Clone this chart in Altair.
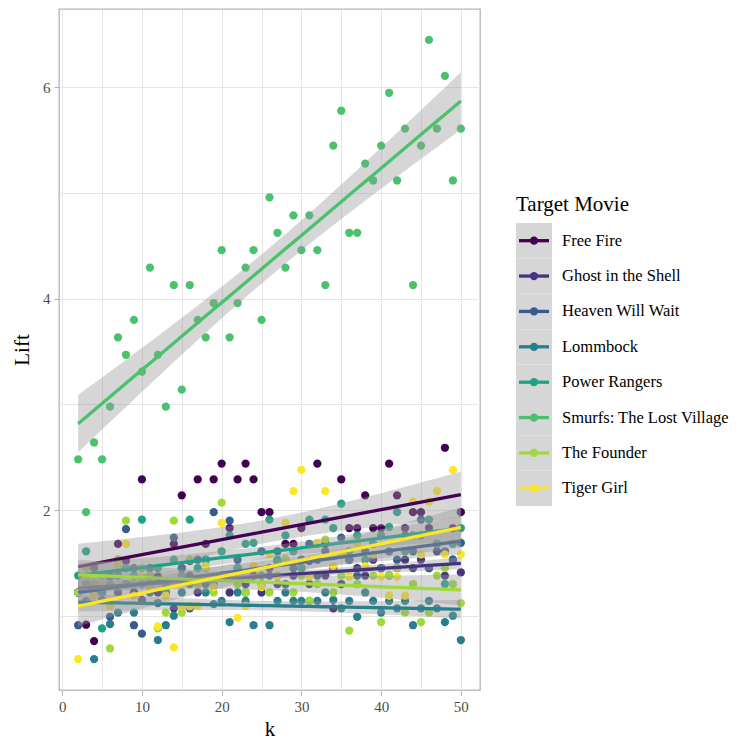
import altair as alt
import numpy as np
import pandas as pd

movies = ["Free Fire", "Ghost in the Shell", "Heaven Will Wait", "Lommbock",
          "Power Rangers", "Smurfs: The Lost Village", "The Founder", "Tiger Girl"]
colors = ["#440154", "#46337E", "#365C8D", "#277F8E", "#1FA187", "#4AC16D", "#9FDA3A", "#FDE725"]

k_values = list(range(2, 51))

free_fire = [1.22, 0.915, 0.76, 1.22, 1.37, 1.68, 1.52, 1.22, 2.29, 1.37, 1.37, 1.22, 1.68, 2.14, 1.52,
             2.29, 1.68, 2.29, 2.44, 1.83, 2.29, 2.44, 2.29, 1.98, 1.98, 1.52, 1.68, 1.68, 1.83, 1.52,
             2.44, 1.68, 1.07, 2.29, 1.83, 1.83, 2.14, 1.83, 1.83, 2.44, 2.14, 1.83, 1.98, 1.98, 1.83,
             1.68, 2.59, 1.83, 1.98]
ghost = [1.22, 1.30, 1.45, 1.15, 1.38, 1.22, 1.30, 1.45, 1.15, 1.38, 1.22, 1.30, 1.07, 1.45, 1.38,
         1.22, 1.53, 1.30, 1.38, 1.22, 1.45, 1.30, 1.38, 1.22, 1.45, 1.30, 1.53, 1.38, 1.45, 1.30,
         1.53, 1.38, 1.45, 1.30, 1.53, 1.45, 1.38, 1.53, 1.45, 1.38, 1.45, 1.53, 1.45, 1.53, 1.45,
         1.61, 1.38, 1.53, 1.41]
heaven = [0.91, 1.14, 1.30, 1.22, 0.99, 1.38, 1.82, 0.91, 0.83, 1.45, 1.12, 1.30, 1.74, 1.45, 1.07,
          1.53, 1.30, 1.98, 1.38, 1.90, 1.53, 1.22, 1.45, 1.61, 1.38, 1.61, 1.30, 1.45, 1.53, 1.68,
          1.38, 1.61, 1.45, 1.74, 1.53, 1.38, 1.61, 1.68, 1.45, 1.61, 1.53, 1.76, 1.61, 1.91, 1.45,
          1.68, 1.61, 1.53, 1.69]
lommbock = [1.22, 1.30, 0.59, 1.22, 0.92, 1.03, 1.30, 1.03, 1.30, 1.22, 0.77, 0.91, 1.00, 1.22, 1.30,
            1.30, 1.22, 1.11, 1.14, 0.94, 1.22, 1.14, 0.91, 1.30, 0.91, 1.14, 1.22, 1.14, 1.14, 1.14,
            1.14, 1.22, 1.15, 1.07, 1.14, 0.99, 1.22, 1.14, 1.03, 1.14, 1.07, 1.14, 0.91, 1.07, 1.14,
            1.07, 0.94, 1.00, 0.77]
power_rangers = [1.38, 1.61, 1.22, 0.88, 1.30, 1.53, 1.45, 1.38, 1.91, 1.30, 1.45, 1.22, 1.53, 1.38, 1.91,
                 1.45, 1.53, 1.30, 1.61, 1.76, 1.45, 1.68, 1.69, 1.38, 1.91, 1.53, 1.76, 1.61, 1.45, 1.91,
                 1.68, 1.91, 1.83, 2.06, 1.61, 1.76, 1.53, 1.68, 1.76, 1.84, 1.98, 1.61, 1.76, 1.76, 1.91,
                 1.68, 1.30, 1.68, 1.83]
smurfs = [2.48, 1.98, 2.64, 2.48, 2.98, 3.635, 3.47, 3.80, 3.31, 4.295, 3.47, 2.98, 4.13, 3.14, 4.13,
          3.80, 3.635, 3.96, 4.46, 3.635, 3.96, 4.295, 4.46, 3.80, 4.96, 4.625, 4.295, 4.79, 4.46, 4.79,
          4.46, 4.13, 5.45, 5.78, 4.625, 4.625, 5.28, 5.12, 5.45, 5.95, 5.12, 5.61, 4.13, 5.45, 6.45,
          5.61, 6.11, 5.12, 5.61]
founder = [1.22, 1.45, 1.30, 1.38, 0.69, 1.53, 1.90, 1.30, 1.45, 1.38, 0.88, 1.03, 1.90, 1.03, 1.53,
           1.30, 1.45, 1.22, 2.07, 1.38, 1.30, 1.22, 1.45, 1.30, 1.22, 1.38, 1.53, 1.22, 1.38, 1.14,
           1.30, 1.72, 1.22, 1.38, 0.86, 1.30, 1.45, 1.38, 0.94, 1.38, 1.45, 1.03, 1.30, 0.94, 1.03,
           1.38, 1.45, 1.30, 1.12]
tiger_girl = [0.59, 1.37, 1.19, 1.27, 1.09, 1.47, 1.68, 1.19, 1.37, 1.27, 0.90, 1.19, 0.70, 1.09, 1.09,
              1.09, 1.47, 1.27, 1.88, 1.37, 0.98, 1.09, 1.47, 1.27, 1.58, 1.37, 1.88, 2.18, 2.38, 1.37,
              1.69, 2.18, 1.47, 1.58, 1.37, 1.68, 1.47, 1.58, 1.37, 1.19, 1.37, 1.19, 2.08, 1.58, 2.08,
              2.18, 1.58, 2.38, 1.58]

series = [free_fire, ghost, heaven, lommbock, power_rangers, smurfs, founder, tiger_girl]

rows = []
for m, vals in zip(movies, series):
    for k, v in zip(k_values, vals):
        rows.append({"k": k, "Lift": v, "movie": m})
df = pd.DataFrame(rows)

# linear fit with 95% confidence band (like geom_smooth(method = "lm"))
T_CRIT = 2.0117  # t(0.975, df=47)
fits = []
for m, vals in zip(movies, series):
    x = np.array(k_values, dtype=float)
    y = np.array(vals, dtype=float)
    b, a = np.polyfit(x, y, 1)
    resid = y - (a + b * x)
    n = len(x)
    s = np.sqrt(np.sum(resid ** 2) / (n - 2))
    sxx = np.sum((x - x.mean()) ** 2)
    for xv in x:
        f = a + b * xv
        se = s * np.sqrt(1.0 / n + (xv - x.mean()) ** 2 / sxx)
        fits.append({"k": xv, "fit": f, "lo": f - T_CRIT * se, "hi": f + T_CRIT * se, "movie": m})
fit_df = pd.DataFrame(fits)

ymin = min(df["Lift"].min(), fit_df["lo"].min())
ymax = max(df["Lift"].max(), fit_df["hi"].max())
yr = ymax - ymin
xr = max(k_values) - min(k_values)
x_scale = alt.Scale(domain=[min(k_values) - 0.05 * xr, max(k_values) + 0.05 * xr], nice=False, zero=False)
y_scale = alt.Scale(domain=[ymin - 0.05 * yr, ymax + 0.05 * yr], nice=False, zero=False)
color_scale = alt.Scale(domain=movies, range=colors)

FONT = "Liberation Serif"
x_axis = alt.Axis(
    values=list(range(0, 55, 5)),
    labelExpr="datum.value % 10 === 0 ? datum.label : ''",
    tickOpacity={"condition": {"test": "datum.value % 10 === 0", "value": 1}, "value": 0},
    title="k",
)
y_axis = alt.Axis(
    values=[1, 2, 3, 4, 5, 6],
    labelExpr="datum.value % 2 === 0 ? datum.label : ''",
    tickOpacity={"condition": {"test": "datum.value % 2 === 0", "value": 1}, "value": 0},
    title="Lift",
)

X = alt.X("k:Q", scale=x_scale, axis=x_axis)

points = alt.Chart(df).mark_circle(size=68, opacity=1).encode(
    x=X,
    y=alt.Y("Lift:Q", scale=y_scale, axis=y_axis),
    color=alt.Color("movie:N", scale=color_scale, legend=None),
)

layers = [points]
for m, c in zip(movies, colors):
    sub = fit_df[fit_df["movie"] == m]
    band = alt.Chart(sub).mark_area(color="#999999", opacity=0.4).encode(
        x=X,
        y=alt.Y("lo:Q", scale=y_scale, axis=y_axis),
        y2="hi:Q",
    )
    line = alt.Chart(sub).mark_line(color=c, strokeWidth=3.3).encode(
        x=X,
        y=alt.Y("fit:Q", scale=y_scale, axis=y_axis),
    )
    layers += [band, line]

main = alt.layer(*layers).properties(
    width=421, height=681,
    view=alt.ViewBackground(stroke="#b3b3b3", strokeWidth=1.3),
)

# legend built as a small chart
legend_df = pd.DataFrame({"movie": movies})
ly = alt.Y("movie:N", sort=movies, axis=None,
           scale=alt.Scale(domain=movies, range=[214, 497], paddingInner=0, paddingOuter=0))
lbase = alt.Chart(legend_df)
key_bg = lbase.mark_rect(color="#d6d6d6").encode(y=ly, x=alt.value(0), x2=alt.value(36))
key_line = lbase.mark_rule(strokeWidth=3.3).encode(
    y=ly, x=alt.value(3), x2=alt.value(33),
    color=alt.Color("movie:N", scale=color_scale, legend=None))
key_pt = lbase.mark_circle(size=68, opacity=1).encode(
    y=ly, x=alt.value(18),
    color=alt.Color("movie:N", scale=color_scale, legend=None))
key_txt = lbase.mark_text(align="left", baseline="middle", font=FONT, fontSize=16.5, color="black").encode(
    y=ly, x=alt.value(46), text="movie:N")
title_txt = alt.Chart(alt.Data(values=[{}])).mark_text(
    align="left", baseline="alphabetic", font=FONT, fontSize=21, color="black"
).encode(x=alt.value(0), y=alt.value(202), text=alt.value("Target Movie"))

legend = alt.layer(key_bg, key_line, key_pt, key_txt, title_txt).properties(
    width=190, height=681,
    view=alt.ViewBackground(stroke="transparent"),
)

chart = alt.hconcat(main, legend, spacing=34).properties(
    padding={"left": 2, "top": 0, "right": 0, "bottom": 0}
).configure_view(stroke="transparent").configure_axis(
    domain=False,
    grid=True,
    gridColor="#e5e5e5",
    gridWidth=1,
    tickColor="#b3b3b3",
    tickSize=5,
    labelFont=FONT,
    labelFontSize=15,
    labelColor="#4d4d4d",
    labelPadding=4,
    titleFont=FONT,
    titleFontSize=21,
    titleFontWeight="normal",
    titleColor="black",
).configure_axisY(titlePadding=10).configure_axisX(titlePadding=4)

chart.save("out.html", embed_options={"renderer": "svg", "actions": False})
